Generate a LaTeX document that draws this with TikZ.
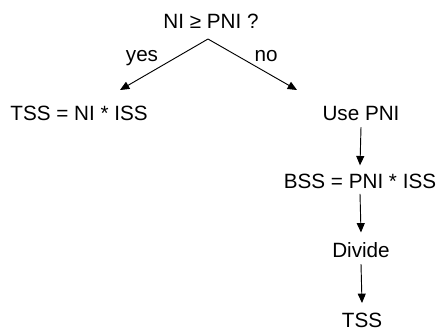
\documentclass[tikz,border=0pt]{standalone}
\usepackage{fontspec}
\setmainfont{Liberation Sans}
\usetikzlibrary{arrows.meta, positioning}

\begin{document}
\begin{tikzpicture}[
        x=0.75pt, y=-0.75pt,
        stage/.style={inner sep=0pt, anchor=base, font=\fontsize{15.5}{18}\selectfont},
        pointer/.style={-{Triangle[length=7pt, width=6pt]}, line width=0.7pt}
    ]

    \useasboundingbox (0,0) rectangle (442,330);

    \node[stage] (question) at (211,28) {NI ≥ PNI ?};
    \coordinate (split) at (208,39);

    \node[stage] (total) at (79,120) {TSS = NI * ISS};
    \node[stage] (usepni) at (361,120) {Use PNI};
    \node[stage] (bss) at (360,188) {BSS = PNI * ISS};
    \node[stage] (divide) at (361,257) {Divide};
    \node[stage] (tss) at (362,327) {TSS};

    \coordinate (yesend) at (120,90);
    \coordinate (noend) at (297,90);

    \node[stage] (yes) at (142,61) {yes};
    \node[stage] (no) at (266,61) {no};

    \draw[pointer] (split) -- (yesend);
    \draw[pointer] (split) -- (noend);

    \draw[pointer] ([yshift=-5pt]usepni.south) -- ([yshift=6pt]bss.north);
    \draw[pointer] ([yshift=-4pt]bss.south) -- ([yshift=7pt]divide.north);
    \draw[pointer] ([yshift=-5pt]divide.south) -- ([yshift=7pt]tss.north);

\end{tikzpicture}
\end{document}
